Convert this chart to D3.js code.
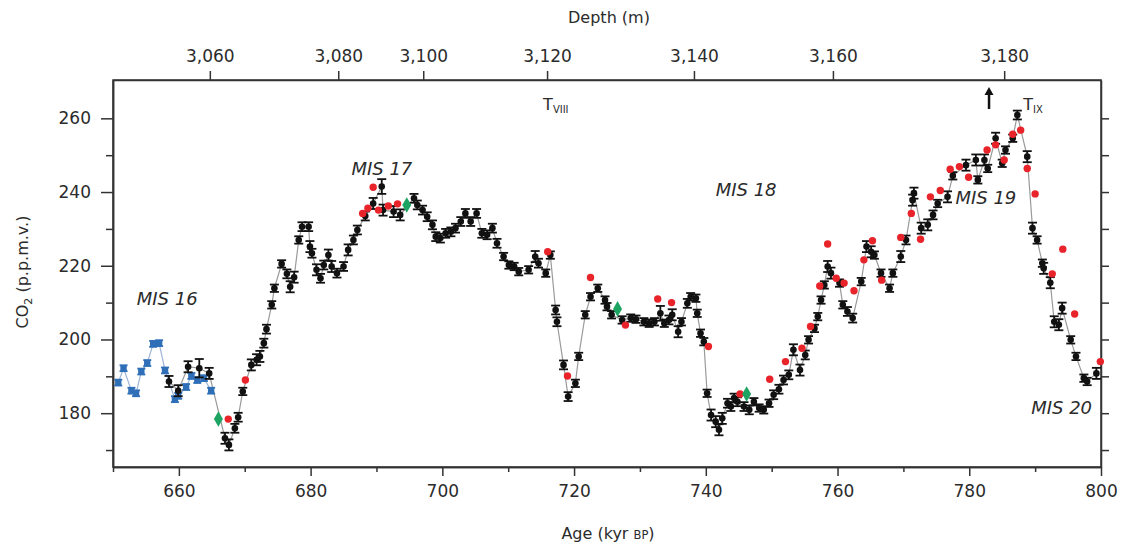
<!DOCTYPE html>
<html>
<head>
<meta charset="utf-8">
<script src="https://cdn.jsdelivr.net/npm/d3@7"></script>
<style>
  html, body { margin: 0; padding: 0; background: #fff; }
  svg { display: block; }
  text { font-family: "DejaVu Sans", "Liberation Sans", sans-serif; fill: #2b2b2b; }
</style>
</head>
<body>
<svg id="chart" width="1131" height="547"></svg>
<script>
// ---- Data ----
// Age ticks (kyr BP)
const ageTicksMajor = [660, 680, 700, 720, 740, 760, 780, 800];
const ageTicksMinor = [650, 670, 690, 710, 730, 750, 770, 790];
const co2TicksMajor = [180, 200, 220, 240, 260];
const co2TicksMinor = [170, 190, 210, 230, 250];
// Depth axis: depth label and the age it sits at
const depthLabels = ["3,060", "3,080", "3,100", "3,120", "3,140", "3,160", "3,180"];
const depthAges   = [664.7, 684.2, 697.1, 715.9, 738.2, 759.3, 785.3];

// Blue series [age, CO2]
const blueSeries = [
  [650.8,188.3],[651.6,192.2],[652.8,186.1],[653.5,185.4],[654.3,191.3],[655.2,193.6],
  [656.1,198.8],[657.0,199.0],[657.9,191.6],[659.4,183.8],[659.9,184.7],[661.1,187.1],
  [661.9,190.1],[662.8,189.0],[663.8,189.5],[664.9,186.1]
];

// Black series [age, CO2, error]
const blackSeries = [
  [658.5,188.6,1.5],[659.9,186.1,1.5],[661.4,192.6,1.5],[663.1,192.2,2.5],[664.6,190.8,1.5],
  [667.0,173.2,1.5],[667.6,171.4,1.5],[668.5,175.9,1.2],[669.0,178.9,1.2],[669.7,185.9,1.0],
  [671.0,193.1,1.5],[671.8,194.5,1.5],[672.3,195.4,1.5],[672.9,199.0,1.2],[673.3,202.8,1.2],
  [674.1,209.4,1.0],[674.5,213.9,1.0],[675.6,220.5,1.0],[676.4,217.8,1.2],[676.9,214.3,1.5],
  [677.5,216.9,1.5],[678.2,227.0,1.0],[678.7,230.6,1.2],[679.7,230.6,1.2],[679.9,225.2,1.5],
  [680.2,223.4,1.2],[680.9,218.9,1.5],[681.5,216.6,1.2],[682.0,220.2,1.2],[682.7,222.9,1.5],
  [683.2,219.8,1.5],[684.0,218.0,1.2],[685.0,219.8,1.2],[685.7,224.3,1.5],[686.5,227.0,1.2],
  [687.1,229.7,1.2],[688.3,233.5,1.2],[689.5,236.9,1.5],[690.8,241.5,2.0],[691.0,235.1,1.5],
  [692.6,234.7,1.5],[693.6,233.8,1.5],[695.7,238.3,1.2],[696.2,236.5,1.2],[697.0,235.1,1.2],
  [697.7,233.3,1.2],[698.5,231.1,1.2],[699.0,227.9,1.2],[699.7,227.5,1.2],[700.5,228.8,1.2],
  [701.3,229.2,1.2],[702.0,230.2,1.2],[702.8,232.0,1.2],[703.5,234.2,1.2],[704.3,232.0,1.2],
  [705.2,234.2,1.2],[706.0,228.8,1.2],[706.8,228.4,1.2],[707.6,230.2,1.2],[708.3,226.1,1.2],
  [709.3,222.5,1.0],[710.1,220.2,1.0],[710.9,219.8,1.0],[711.6,218.4,1.0],[713.1,218.9,1.0],
  [714.1,222.5,1.5],[714.6,220.7,1.2],[715.7,218.0,1.0],[716.4,222.9,1.0],[717.2,208.0,1.2],
  [717.4,204.8,1.2],[718.4,193.1,1.2],[719.1,184.5,1.2],[720.2,188.1,1.0],[720.7,195.4,1.0],
  [721.7,206.7,1.0],[722.5,211.6,1.0],[723.6,213.9,1.0],[724.7,210.7,1.0],[725.0,208.9,1.0],
  [725.7,206.7,1.0],[727.3,205.3,1.0],[728.6,205.8,1.0],[729.4,205.5,1.0],[730.6,204.8,1.0],
  [731.4,204.4,1.0],[732.2,204.8,1.0],[733.1,207.1,2.0],[733.7,204.4,1.0],[734.4,205.3,1.2],
  [734.9,206.7,1.5],[735.8,202.1,1.5],[736.3,204.8,1.0],[737.2,209.8,1.2],[737.7,211.6,1.0],
  [738.5,211.2,1.0],[738.7,207.1,1.0],[739.2,201.7,1.0],[739.7,199.4,1.0],[740.2,185.4,1.0],
  [740.8,179.5,1.5],[741.5,177.7,1.5],[742.0,175.5,1.5],[742.5,178.6,1.5],[743.3,182.7,1.2],
  [743.8,181.8,1.2],[744.3,184.1,1.2],[744.8,183.1,1.2],[745.8,181.8,1.2],[746.6,180.9,1.2],
  [747.3,183.1,1.0],[748.1,181.4,1.0],[748.8,180.9,1.0],[749.6,182.7,1.0],[750.3,185.0,1.2],
  [751.1,186.5,1.2],[751.8,189.0,1.2],[752.6,190.4,1.2],[753.3,197.2,1.5],[754.3,191.7,1.5],
  [755.1,195.8,1.2],[755.6,199.9,1.0],[756.5,203.0,1.0],[757.0,206.2,1.0],[757.5,210.7,1.0],
  [758.0,214.8,1.0],[758.5,219.8,1.5],[759.0,218.0,1.5],[760.3,215.3,1.0],[760.8,209.4,1.0],
  [761.5,207.6,1.2],[762.3,205.8,1.2],[763.6,215.7,1.0],[764.4,225.2,1.5],[765.1,223.8,1.5],
  [765.6,222.9,1.0],[766.6,218.0,1.0],[767.9,213.9,1.0],[768.4,218.0,1.0],[769.6,222.5,1.5],
  [770.4,227.0,1.2],[771.4,237.8,1.5],[771.6,239.7,1.5],[772.7,230.2,1.5],[773.7,231.1,1.5],
  [774.5,233.8,1.2],[775.2,236.9,1.0],[776.7,238.7,1.5],[777.5,244.4,1.0],[779.5,247.3,1.5],
  [781.0,248.7,1.5],[781.3,243.3,1.0],[782.3,248.7,1.5],[782.8,246.4,1.0],[784.0,254.6,1.5],
  [785.0,247.8,1.0],[785.5,251.4,1.0],[786.6,254.6,1.0],[787.3,260.9,1.2],[788.8,249.6,1.5],
  [789.6,230.2,1.5],[790.3,227.0,1.0],[791.1,220.7,1.0],[791.3,219.3,1.5],[792.3,215.4,1.5],
  [792.9,204.8,1.5],[793.6,204.0,1.5],[794.1,208.5,1.5],[795.4,199.9,1.0],[796.2,195.4,1.0],
  [797.4,189.5,1.0],[797.9,188.6,1.0],[799.3,190.8,1.5]
];

// Red series [age, CO2]
const redSeries = [
  [667.5,178.4],[670.1,189.0],[687.9,234.2],[688.7,235.6],[689.5,241.3],[690.3,235.1],
  [691.8,236.2],[693.2,236.8],[716.0,223.8],[719.0,190.1],[722.5,216.8],[727.8,203.9],
  [732.7,211.0],[734.8,210.0],[740.4,198.1],[745.2,185.2],[749.7,189.2],[752.1,194.0],
  [754.6,197.6],[755.9,203.5],[757.3,214.5],[758.5,225.9],[759.8,216.6],[761.0,215.3],
  [762.5,213.2],[764.0,221.6],[765.3,226.8],[766.7,216.1],[769.6,227.7],[771.2,234.2],
  [772.6,227.2],[774.1,238.7],[775.6,240.4],[777.1,246.2],[778.5,246.9],[779.9,244.0],
  [782.7,251.4],[784.0,252.8],[785.3,248.7],[786.6,255.7],[787.8,256.8],[788.8,246.4],
  [790.0,239.5],[792.6,217.8],[794.2,224.5],[796.0,206.9],[799.9,194.0]
];

// Green series [age, CO2]
const greenSeries = [[666.0,178.4],[694.6,236.5],[726.6,208.3],[746.2,185.2]];

// Stage labels
const misLabels = ["MIS 16", "MIS 17", "MIS 18", "MIS 19", "MIS 20"];
const misAges   = [653.6, 686.2, 741.5, 777.9, 789.4];
const misCO2    = [209.3, 244.6, 238.8, 236.8, 179.8];

// ---- Layout ----
const svg = d3.select("#chart");
const L = 113, R = 1101, T = 80, B = 467;
const x = d3.scaleLinear().domain([650, 800]).range([L, R]);
const y = d3.scaleLinear().domain([165.4, 270.4]).range([B, T]);

const axisColor = "#333";

// frame
svg.append("rect").attr("x", L).attr("y", T).attr("width", R - L).attr("height", B - T)
  .attr("fill", "none").attr("stroke", axisColor).attr("stroke-width", 1.5);

// bottom axis
const gB = svg.append("g").attr("transform", `translate(0,${B})`);
gB.call(d3.axisBottom(x).tickValues(ageTicksMajor).tickSize(9).tickSizeOuter(0).tickPadding(9).tickFormat(d3.format("d")));
gB.append("g").call(d3.axisBottom(x).tickValues(ageTicksMinor).tickSize(5).tickSizeOuter(0).tickFormat(""));

// left axis
const gL = svg.append("g").attr("transform", `translate(${L},0)`);
gL.call(d3.axisLeft(y).tickValues(co2TicksMajor).tickSize(12).tickSizeOuter(0).tickPadding(10).tickFormat(d3.format("d")));
gL.append("g").call(d3.axisLeft(y).tickValues(co2TicksMinor).tickSize(7).tickSizeOuter(0).tickFormat(""));

// right axis
const gR = svg.append("g").attr("transform", `translate(${R},0)`);
gR.call(d3.axisRight(y).tickValues(co2TicksMajor.concat(co2TicksMinor)).tickSize(8).tickSizeOuter(0).tickFormat(""));

// top (depth) axis
const gT = svg.append("g").attr("transform", `translate(0,${T})`);
gT.call(d3.axisTop(x).tickValues(depthAges).tickSize(9).tickSizeOuter(0).tickPadding(9)
  .tickFormat((d, i) => depthLabels[i]));

svg.selectAll(".domain").attr("stroke", axisColor).attr("stroke-width", 1.5);
svg.selectAll(".tick line").attr("stroke", axisColor).attr("stroke-width", 1.5);
svg.selectAll(".tick text").attr("font-size", 17).attr("fill", "#2b2b2b")
  .attr("font-family", "DejaVu Sans, sans-serif");

// axis titles
svg.append("text").attr("x", 609).attr("y", 23).attr("text-anchor", "middle")
  .attr("font-size", 16).text("Depth (m)");

const ageTitle = svg.append("text").attr("x", 608).attr("y", 539).attr("text-anchor", "middle")
  .attr("font-size", 16);
ageTitle.append("tspan").text("Age (kyr ");
ageTitle.append("tspan").attr("font-size", 11.5).text("BP");
ageTitle.append("tspan").text(")");

const yTitle = svg.append("text").attr("transform", "translate(28,272) rotate(-90)")
  .attr("text-anchor", "middle").attr("font-size", 16);
yTitle.append("tspan").text("CO");
yTitle.append("tspan").attr("font-size", 11).attr("dy", 4).text("2");
yTitle.append("tspan").attr("dy", -4).text(" (p.p.m.v.)");

// ---- Lines ----
const line = d3.line().x(d => x(d[0])).y(d => y(d[1]));
svg.append("path").datum(blueSeries).attr("d", line)
  .attr("fill", "none").attr("stroke", "#9db3d6").attr("stroke-width", 1.2);
svg.append("path").datum(blackSeries).attr("d", line)
  .attr("fill", "none").attr("stroke", "#9a9a9a").attr("stroke-width", 1.2);

// ---- Error bars + markers ----
function errBars(data, color, defaultErr, cap) {
  const g = svg.append("g").attr("stroke", color).attr("stroke-width", 1.8);
  data.forEach(d => {
    const e = d[2] !== undefined ? d[2] : defaultErr;
    const cx = x(d[0]);
    g.append("line").attr("x1", cx).attr("x2", cx).attr("y1", y(d[1] - e)).attr("y2", y(d[1] + e));
    g.append("line").attr("x1", cx - cap).attr("x2", cx + cap).attr("y1", y(d[1] - e)).attr("y2", y(d[1] - e));
    g.append("line").attr("x1", cx - cap).attr("x2", cx + cap).attr("y1", y(d[1] + e)).attr("y2", y(d[1] + e));
  });
}
errBars(blueSeries, "#2f6fb8", 0.8, 4);
svg.append("g").selectAll("rect").data(blueSeries).join("rect")
  .attr("x", d => x(d[0]) - 3.2).attr("y", d => y(d[1]) - 3.2).attr("width", 6.4).attr("height", 6.4)
  .attr("fill", "#2f6fb8");

errBars(blackSeries, "#111", 1.2, 4.5);
svg.append("g").selectAll("circle").data(blackSeries).join("circle")
  .attr("cx", d => x(d[0])).attr("cy", d => y(d[1])).attr("r", 3.3).attr("fill", "#111");

svg.append("g").selectAll("circle").data(redSeries).join("circle")
  .attr("cx", d => x(d[0])).attr("cy", d => y(d[1])).attr("r", 3.7).attr("fill", "#e8232a");

svg.append("g").selectAll("path").data(greenSeries).join("path")
  .attr("transform", d => `translate(${x(d[0])},${y(d[1])})`)
  .attr("d", d3.symbol(d3.symbolDiamond, 70)).attr("fill", "#1da462");

// ---- Annotations ----
svg.append("g").selectAll("text").data(misLabels).join("text")
  .attr("x", (d, i) => x(misAges[i])).attr("y", (d, i) => y(misCO2[i]))
  .attr("font-size", 18).attr("font-style", "italic").attr("fill", "#2b2b2b")
  .text(d => d);

// T VIII
const t8 = svg.append("text").attr("x", x(715.3)).attr("y", 110).attr("font-size", 16);
t8.append("tspan").text("T");
t8.append("tspan").attr("font-size", 10).attr("dy", 3).text("VIII");
// T IX
const t9 = svg.append("text").attr("x", x(788.2)).attr("y", 110).attr("font-size", 16);
t9.append("tspan").text("T");
t9.append("tspan").attr("font-size", 10).attr("dy", 3).text("IX");

// arrow
const ax = x(783.0);
svg.append("line").attr("x1", ax).attr("x2", ax).attr("y1", 109).attr("y2", 93)
  .attr("stroke", "#111").attr("stroke-width", 2.5);
svg.append("path").attr("d", `M${ax - 4.5},${95} L${ax},${87} L${ax + 4.5},${95} Z`).attr("fill", "#111");
</script>
</body>
</html>
